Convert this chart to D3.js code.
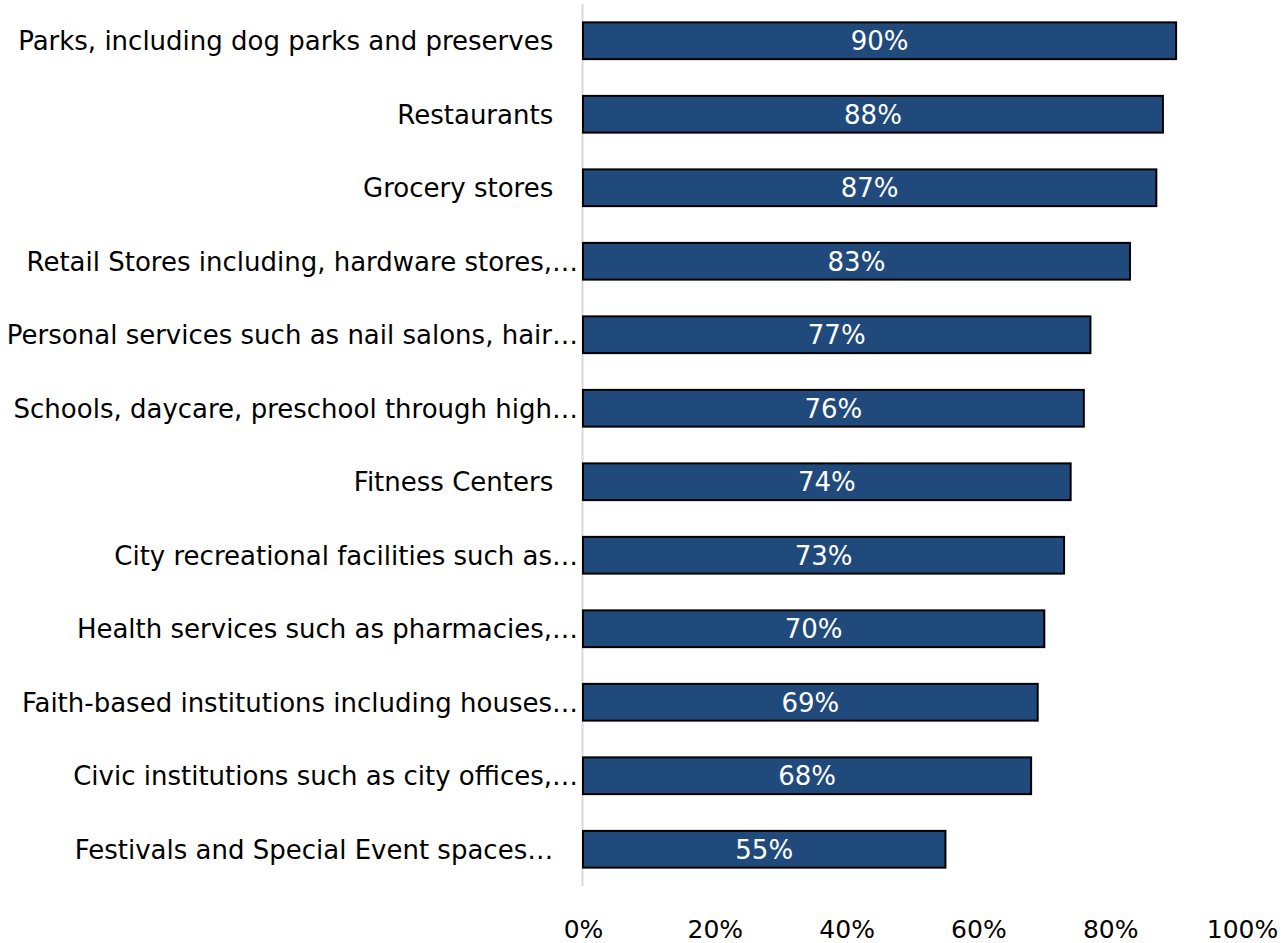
<!DOCTYPE html>
<html>
<head>
<meta charset="utf-8">
<script src="https://cdn.jsdelivr.net/npm/d3@7"></script>
<style>
  html, body { margin: 0; padding: 0; background: #ffffff; }
  svg text { font-family: "DejaVu Sans", sans-serif; white-space: pre; }
</style>
</head>
<body>
<svg id="chart" width="1285" height="943"></svg>
<script>
// Share of respondents by place type
const categories = [
  "Parks, including dog parks and preserves\u00a0\u00a0\u00a0",
  "Restaurants\u00a0\u00a0\u00a0",
  "Grocery stores\u00a0\u00a0\u00a0",
  "Retail Stores including, hardware stores,…",
  "Personal services such as nail salons, hair…",
  "Schools, daycare, preschool through high…",
  "Fitness Centers\u00a0\u00a0\u00a0",
  "City recreational facilities such as…",
  "Health services such as pharmacies,…",
  "Faith-based institutions including houses…",
  "Civic institutions such as city offices,…",
  "Festivals and Special Event spaces…\u00a0\u00a0\u00a0"
];
const values = [0.90, 0.88, 0.87, 0.83, 0.77, 0.76, 0.74, 0.73, 0.70, 0.69, 0.68, 0.55];
const tickValues = [0, 0.2, 0.4, 0.6, 0.8, 1.0];

const svg = d3.select("#chart");
const plot = { left: 583, right: 1242, top: 4, bottom: 886 };

const x = d3.scaleLinear().domain([0, 1]).range([plot.left, plot.right]);
const y = d3.scaleBand().domain(d3.range(categories.length))
  .range([plot.top, plot.bottom]).paddingInner(0.5).paddingOuter(0.25);

// vertical category axis line
svg.append("line")
  .attr("x1", x(0) - 0.5).attr("x2", x(0) - 0.5)
  .attr("y1", plot.top).attr("y2", plot.bottom)
  .attr("stroke", "#d9d9d9").attr("stroke-width", 2);

// bars
svg.append("g").selectAll("rect").data(values).join("rect")
  .attr("x", x(0))
  .attr("y", (d, i) => y(i))
  .attr("width", d => x(d) - x(0))
  .attr("height", y.bandwidth())
  .attr("fill", "#214a7c")
  .attr("stroke", "#000000")
  .attr("stroke-width", 2);

// value labels inside bars
svg.append("g").selectAll("text").data(values).join("text")
  .attr("x", d => (x(0) + x(d)) / 2)
  .attr("y", (d, i) => y(i) + y.bandwidth() / 2)
  .attr("dy", "0.36em")
  .attr("text-anchor", "middle")
  .attr("fill", "#ffffff")
  .attr("font-size", 26)
  .text(d => d3.format(".0%")(d));

// category labels
svg.append("g").selectAll("text").data(categories).join("text")
  .attr("x", 578)
  .attr("y", (d, i) => y(i) + y.bandwidth() / 2)
  .attr("dy", "0.36em")
  .attr("text-anchor", "end")
  .attr("fill", "#000000")
  .attr("font-size", 26)
  .text(d => d);

// x axis tick labels
const xAxis = d3.axisBottom(x).tickValues(tickValues).tickFormat(d3.format(".0%")).tickSize(0).tickPadding(0);
const gx = svg.append("g").attr("transform", "translate(0, 920)").call(xAxis);
gx.select(".domain").remove();
gx.selectAll("text")
  .attr("font-size", 25)
  .attr("fill", "#000000")
  .attr("font-family", "DejaVu Sans, sans-serif");
</script>
</body>
</html>
